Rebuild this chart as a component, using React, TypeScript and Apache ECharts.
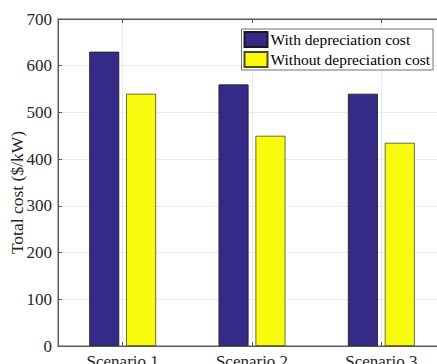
import React, { useEffect, useRef } from "react";
import * as echarts from "echarts";

const categories = ["Scenario 1", "Scenario 2", "Scenario 3"];
const withDepreciation = [630, 560, 540];
const withoutDepreciation = [540, 450, 435];
const seriesNames = ["With depreciation cost", "Without depreciation cost"];
// half-steps across the three categories, used to place grid lines at category centres
const halfSteps = ["0", "1", "2", "3", "4", "5", "6"];

const FONT = "'Liberation Serif', 'Times New Roman', serif";
const TEXT = "#262626";
const AXIS = "#5a5a5a";

export default function App() {
  const ref = useRef<HTMLDivElement>(null);

  useEffect(() => {
    if (!ref.current) return;
    const chart = echarts.init(ref.current, undefined, { renderer: "svg" });
    const oddOnly = (i: number) => i % 2 === 1;
    chart.setOption({
      animation: false,
      backgroundColor: "#ffffff",
      textStyle: { fontFamily: FONT },
      grid: {
        left: 58,
        right: 0,
        top: 19,
        bottom: 18,
        outerBoundsMode: "none",
        containLabel: false,
        show: true,
        borderColor: AXIS,
        borderWidth: 1,
      },
      legend: {
        right: 13,
        top: 29,
        orient: "vertical",
        itemWidth: 23,
        itemHeight: 15,
        itemGap: 3,
        padding: [2, 3, 2, 2],
        backgroundColor: "#ffffff",
        borderColor: "#6e6e6e",
        borderWidth: 1,
        borderRadius: 0,
        icon: "rect",
        textStyle: { fontFamily: FONT, fontSize: 15.5, color: "#000", padding: [0, 0, 0, -2] },
        data: seriesNames,
      },
      xAxis: [
        {
          type: "category",
          data: categories,
          axisLine: { show: true, lineStyle: { color: AXIS } },
          axisTick: { show: true, inside: true, alignWithLabel: true, length: 4, lineStyle: { color: AXIS } },
          splitLine: { show: false },
          axisLabel: { fontFamily: FONT, fontSize: 17, color: TEXT, margin: 7 },
        },
        {
          type: "category",
          position: "top",
          boundaryGap: false,
          data: halfSteps,
          axisLine: { show: true, lineStyle: { color: AXIS } },
          axisTick: { show: true, inside: true, interval: oddOnly, length: 4, lineStyle: { color: AXIS } },
          splitLine: { show: true, interval: oddOnly, lineStyle: { color: "#ebebeb" } },
          axisLabel: { show: false },
        },
      ],
      yAxis: {
        type: "value",
        min: 0,
        max: 700,
        interval: 100,
        name: "Total cost ($/kW)",
        nameLocation: "middle",
        nameGap: 32,
        nameMoveOverlap: false,
        nameTextStyle: { fontFamily: FONT, fontSize: 17.5, color: TEXT, padding: [0, 20, 0, 0] },
        axisLine: { show: true, lineStyle: { color: AXIS } },
        axisTick: { show: true, inside: true, length: 4, lineStyle: { color: AXIS } },
        splitLine: { show: true, lineStyle: { color: "#ebebeb" } },
        axisLabel: { fontFamily: FONT, fontSize: 17, color: TEXT, margin: 6 },
      },
      series: [
        {
          name: seriesNames[0],
          type: "bar",
          xAxisIndex: 0,
          data: withDepreciation,
          barWidth: 30,
          barGap: "23%",
          itemStyle: { color: "#352a87", borderColor: "#1a1a1a", borderWidth: 0.8 },
        },
        {
          name: seriesNames[1],
          type: "bar",
          xAxisIndex: 0,
          data: withoutDepreciation,
          barWidth: 30,
          barGap: "23%",
          itemStyle: { color: "#f9fb0e", borderColor: "#4a4a20", borderWidth: 0.8 },
        },
      ],
    });
    return () => chart.dispose();
  }, []);

  return (
    <div
      style={{
        position: "fixed",
        left: 0,
        top: 0,
        width: 437,
        height: 364,
        overflow: "hidden",
        background: "#ffffff",
      }}
    >
      <div ref={ref} style={{ width: 446, height: 364 }} />
    </div>
  );
}
